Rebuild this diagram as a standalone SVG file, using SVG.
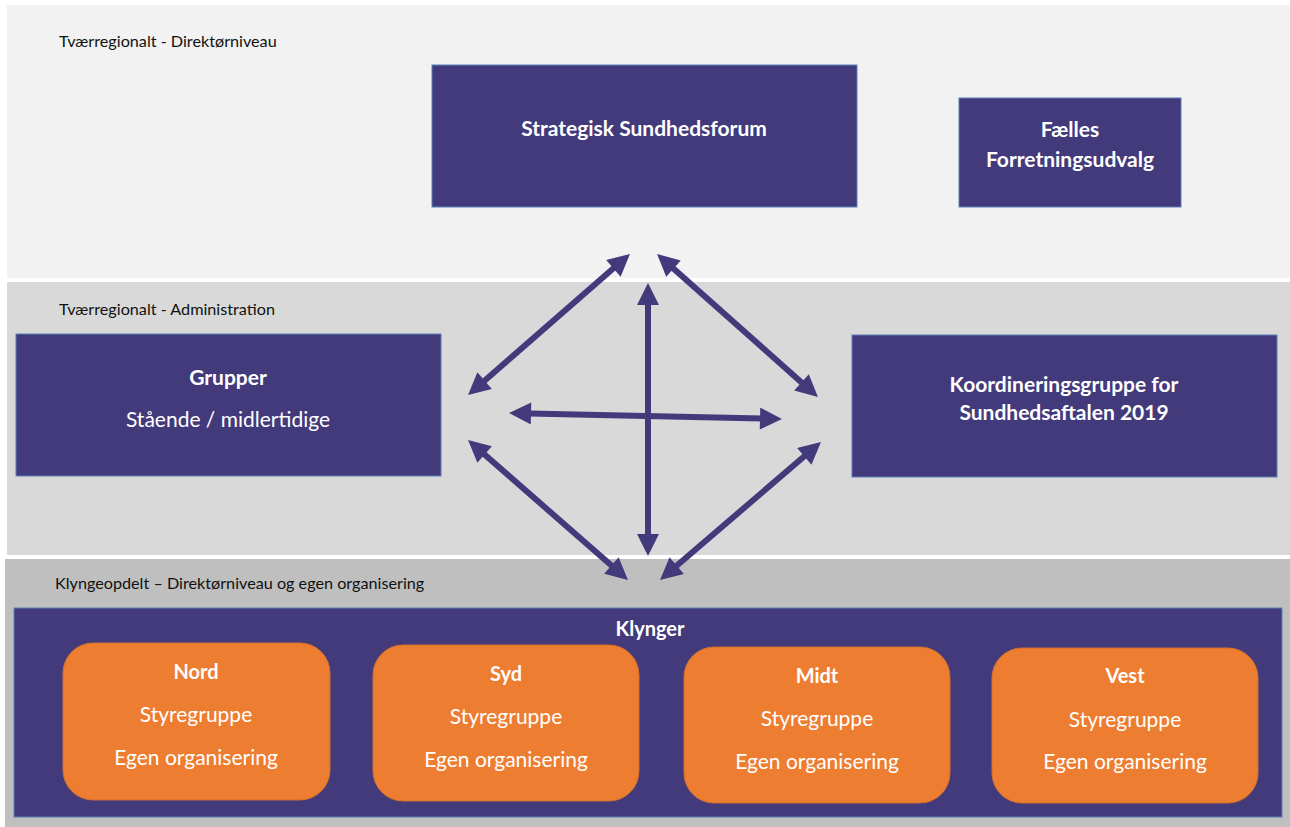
<svg xmlns="http://www.w3.org/2000/svg" width="1290" height="827" viewBox="0 0 1290 827">
<defs>
<style>
.lbl{font-family:Lato,"Liberation Sans",sans-serif;font-size:16.2px;fill:#111}
.box{fill:#433a7c;stroke:#5a7fb5;stroke-width:1}
.org{fill:#ed7d31;stroke:#d0702c;stroke-width:1}
.tb{font-family:Lato,"Liberation Sans",sans-serif;font-weight:bold;font-size:21px;fill:#fff;text-anchor:middle}
.tb2{font-family:Lato,"Liberation Sans",sans-serif;font-weight:bold;font-size:20px;fill:#fff;text-anchor:middle}
.tr{font-family:Lato,"Liberation Sans",sans-serif;font-size:21px;fill:#fff;text-anchor:middle}
.arr{stroke:#433a7c;stroke-width:6;fill:none;marker-start:url(#ah);marker-end:url(#ah)}
</style>
<marker id="ah" viewBox="-2 -11 24 22" refX="2" refY="0" markerUnits="userSpaceOnUse" markerWidth="24" markerHeight="22" orient="auto-start-reverse">
<path d="M0,-11 L22,0 L0,11 Z" fill="#433a7c"/>
</marker>
</defs>
<rect width="1290" height="827" fill="#fff"/>
<g id="bands">
<rect x="7" y="5" width="1283" height="273" fill="#f2f2f2"/>
<rect x="7" y="282" width="1283" height="273" fill="#d9d9d9"/>
<rect x="5" y="559" width="1285" height="268" fill="#bfbfbf"/>
<text class="lbl" x="59" y="47">Tværregionalt - Direktørniveau</text>
<text class="lbl" x="59" y="315">Tværregionalt - Administration</text>
<text class="lbl" x="55" y="589">Klyngeopdelt – Direktørniveau og egen organisering</text>
</g>
<g id="strategisk">
<rect class="box" x="432" y="65" width="425" height="142"/>
<text class="tb" x="644" y="136">Strategisk Sundhedsforum</text>
</g>
<g id="faelles">
<rect class="box" x="959" y="98" width="222" height="109"/>
<text class="tb" x="1070" y="137">Fælles</text>
<text class="tb" x="1070" y="167">Forretningsudvalg</text>
</g>
<g id="grupper">
<rect class="box" x="16" y="334" width="425" height="142"/>
<text class="tb" x="228" y="385">Grupper</text>
<text class="tr" x="228" y="427">Stående / midlertidige</text>
</g>
<g id="koordinering">
<rect class="box" x="852" y="335" width="425" height="142"/>
<text class="tb" x="1064" y="392">Koordineringsgruppe for</text>
<text class="tb" x="1064" y="420">Sundhedsaftalen 2019</text>
</g>
<g id="klynger">
<rect class="box" x="14" y="608" width="1268" height="209"/>
<text class="tb2" x="650" y="636">Klynger</text>
</g>
<g id="nord">
<rect class="org" x="63" y="643" width="267" height="157" rx="30"/>
<text class="tb2" x="196" y="679">Nord</text>
<text class="tr" x="196" y="722">Styregruppe</text>
<text class="tr" x="196" y="765">Egen organisering</text>
</g>
<g id="syd">
<rect class="org" x="373" y="645" width="266" height="156" rx="30"/>
<text class="tb2" x="506" y="681">Syd</text>
<text class="tr" x="506" y="724">Styregruppe</text>
<text class="tr" x="506" y="767">Egen organisering</text>
</g>
<g id="midt">
<rect class="org" x="684" y="647" width="266" height="156" rx="30"/>
<text class="tb2" x="817" y="683">Midt</text>
<text class="tr" x="817" y="726">Styregruppe</text>
<text class="tr" x="817" y="769">Egen organisering</text>
</g>
<g id="vest">
<rect class="org" x="992" y="648" width="266" height="155" rx="30"/>
<text class="tb2" x="1125" y="683">Vest</text>
<text class="tr" x="1125" y="727">Styregruppe</text>
<text class="tr" x="1125" y="769">Egen organisering</text>
</g>
<g id="connectors">
<line class="arr" x1="614.9" y1="267.1" x2="483.1" y2="381.9"/>
<line class="arr" x1="672" y1="267.3" x2="803" y2="383.7"/>
<line class="arr" x1="648" y1="303" x2="648" y2="536"/>
<line class="arr" x1="529" y1="413.4" x2="762" y2="418.6"/>
<line class="arr" x1="483.1" y1="453.2" x2="612.9" y2="566.8"/>
<line class="arr" x1="805.8" y1="455" x2="675.2" y2="567"/>
</g>
</svg>
